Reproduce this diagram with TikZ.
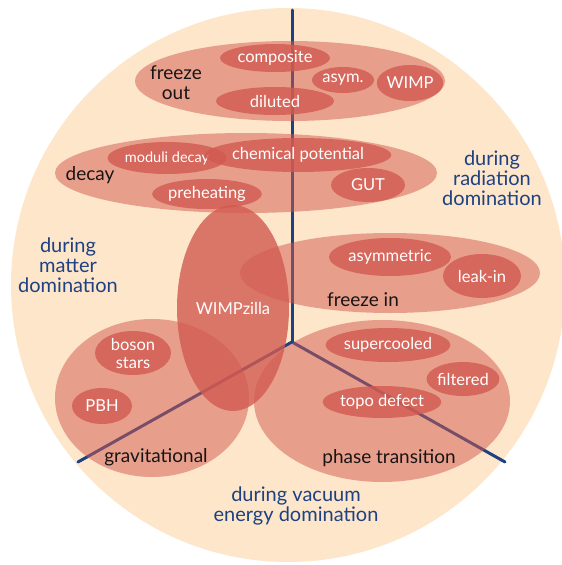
\documentclass[tikz,border=0pt]{standalone}
\usepackage{fontspec}
\setmainfont{Lato}
\usetikzlibrary{shapes.geometric}
\definecolor{peach}{RGB}{253,230,202}
\definecolor{salmon}{RGB}{210,90,80}
\definecolor{navy}{RGB}{30,65,130}
\definecolor{inkblack}{RGB}{25,20,20}
\begin{document}
\begin{tikzpicture}[x=1pt,y=-1pt,
  outerell/.style={ellipse, fill=salmon, fill opacity=0.5, inner sep=0pt},
  innerell/.style={ellipse, fill=salmon, fill opacity=0.8, text opacity=1, text=white, inner sep=0pt, align=center, font=\fontsize{16.5}{18}\selectfont},
  zillaell/.style={ellipse, fill=salmon, fill opacity=0.8, text opacity=1, text=white, inner sep=0pt, font=\fontsize{16.5}{16}\selectfont},
  blacklabel/.style={text=inkblack, align=center, inner sep=0pt, font=\fontsize{19}{20}\selectfont},
  bluelabel/.style={text=navy, align=center, inner sep=0pt, font=\fontsize{20}{20}\selectfont},
  axisline/.style={draw=navy, line width=3pt, line cap=round}]
\useasboundingbox (0,0) rectangle (562,565);
% background disc
\node[circle, fill=peach, minimum size=554pt, inner sep=0pt] (disc) at (288,285) {};
% axes
\coordinate (hub) at (292,342);
\coordinate (top) at (292,10);
\coordinate (ll) at (78,462);
\coordinate (lr) at (505,462);
\draw[axisline] (hub) -- (top);
\draw[axisline] (hub) -- (ll);
\draw[axisline] (hub) -- (lr);
% outer ellipses
\node[outerell, minimum width=310pt, minimum height=80pt] (fo) at (290,81) {};
\node[outerell, minimum width=382pt, minimum height=80pt] (dc) at (246,173) {};
\node[outerell, minimum width=300pt, minimum height=80pt] (fi) at (390,273) {};
\node[outerell, minimum width=194pt, minimum height=158pt] (gr) at (152,398) {};
\node[outerell, minimum width=256pt, minimum height=162pt] (pt) at (382,401) {};
% WIMPzilla
\node[zillaell, minimum width=112pt, minimum height=206pt] (wz) at (233,308) {WIMPzilla};
% inner ellipses
\node[innerell, minimum width=110pt, minimum height=28pt] (composite) at (275,58) {composite};
\node[innerell, minimum width=62pt, minimum height=26pt] (asym) at (343,80) {asym.};
\node[innerell, minimum width=56pt, minimum height=36pt] (wimp) at (410,83) {WIMP};
\node[innerell, minimum width=118pt, minimum height=28pt] (diluted) at (275,101) {diluted};
\node[innerell, minimum width=110pt, minimum height=32pt, font=\fontsize{14.5}{16}\selectfont] (moduli) at (167,158) {moduli decay};
\node[innerell, minimum width=148pt, minimum height=34pt] (chem) at (298,155) {chemical potential};
\node[innerell, minimum width=74pt, minimum height=34pt] (gut) at (368,185) {GUT};
\node[innerell, minimum width=94pt, minimum height=30pt] (preheat) at (207,194) {preheating};
\node[innerell, minimum width=122pt, minimum height=38pt] (asymm) at (390,257) {asymmetric};
\node[innerell, minimum width=78pt, minimum height=44pt] (leak) at (482,276) {leak-in};
\node[innerell, minimum width=76pt, minimum height=44pt] (boson) at (133,353) {boson\\stars};
\node[innerell, minimum width=60pt, minimum height=36pt] (pbh) at (102,406) {PBH};
\node[innerell, minimum width=110pt, minimum height=34pt] (superc) at (388,345) {supercooled};
\node[innerell, minimum width=72pt, minimum height=34pt] (filt) at (463,379) {filtered};
\node[innerell, minimum width=104pt, minimum height=32pt] (topo) at (382,402) {topo defect};
% black labels
\node[blacklabel] (folab) at (176,83) {freeze\\out};
\node[blacklabel] (dclab) at (90,175) {decay};
\node[blacklabel] (filab) at (363,300) {freeze in};
\node[blacklabel] (grlab) at (156,457) {gravitational};
\node[blacklabel] (ptlab) at (389,458) {phase transition};
% blue labels
\node[bluelabel] (rad) at (492,178) {during\\radiation\\domination};
\node[bluelabel] (mat) at (68,265) {during\\matter\\domination};
\node[bluelabel] (vac) at (296,506) {during vacuum\\energy domination};
\end{tikzpicture}
\end{document}
